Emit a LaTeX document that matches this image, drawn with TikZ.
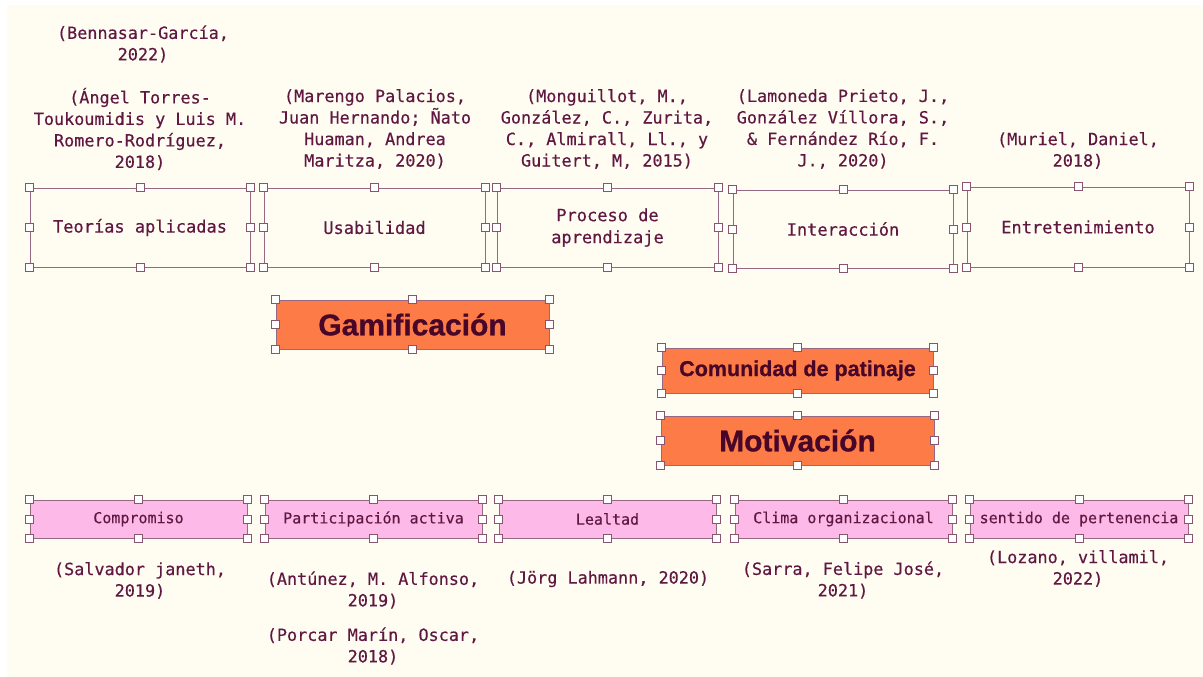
\documentclass[tikz,border=0pt]{standalone}
\usepackage{fontspec}
\setmonofont{DejaVu Sans Mono}[FakeBold=0.35]
\newfontfamily\headfont{Liberation Sans}[BoldFeatures={FakeBold=0.8}]
\definecolor{creamc}{RGB}{255,253,241}
\definecolor{citec}{RGB}{96,24,66}
\definecolor{edgec}{RGB}{150,105,130}
\definecolor{handlec}{RGB}{135,85,112}
\definecolor{orangec}{RGB}{253,123,70}
\definecolor{pinkc}{RGB}{253,185,232}
\definecolor{headc}{RGB}{72,6,40}
\tikzset{
  cite/.style={font=\ttfamily\fontsize{16.8}{21.5}\selectfont, text=citec, align=center, inner sep=0pt},
  topbox/.style={draw=edgec, line width=1pt, inner sep=0pt, minimum height=79pt,
    font=\ttfamily\fontsize{17}{22}\selectfont, text=citec, align=center},
  orbox/.style={draw=edgec, line width=1pt, fill=orangec, inner sep=0pt, text=headc,
    font=\headfont\bfseries},
  pinkbox/.style={draw=edgec, line width=1pt, fill=pinkc, inner sep=0pt, minimum height=38pt,
    minimum width=217pt, font=\ttfamily\fontsize{15}{18}\selectfont, text=citec},
  handle/.style={draw=handlec, fill=white, line width=0.8pt, minimum size=8pt, inner sep=0pt, rectangle}
}
\newcommand\putHandles[1]{%
  \foreach \a/\k in {north west/1,north/2,north east/3,east/4,south east/5,south/6,south west/7,west/8}{%
    \node[handle] (#1-h\k) at (#1.\a) {};}}
\begin{document}
\begin{tikzpicture}[x=1pt,y=-1pt]
\useasboundingbox (0,0) rectangle (1203,677);
\fill[white] (0,0) rectangle (1203,677);
\fill[creamc] (7,5) rectangle (1203,677);

% citations top
\node[cite] (c0) at (143,44) {(Bennasar-García,\\2022)};
\node[cite] (c1) at (140,129) {(Ángel Torres-\\Toukoumidis y Luis M.\\Romero-Rodríguez,\\2018)};
\node[cite] (c2) at (375,129) {(Marengo Palacios,\\Juan Hernando; Ñato\\Huaman, Andrea\\Maritza, 2020)};
\node[cite] (c3) at (607,129) {(Monguillot, M.,\\González, C., Zurita,\\C., Almirall, Ll., y\\Guitert, M, 2015)};
\node[cite] (c4) at (843,129) {(Lamoneda Prieto, J.,\\González Víllora, S.,\\\& Fernández Río, F.\\J., 2020)};
\node[cite] (c5) at (1078,150.5) {(Muriel, Daniel,\\2018)};

% top boxes
\node[topbox, minimum width=220pt] (t1) at (140,227.5) {Teorías aplicadas};
\node[topbox, minimum width=221pt] (t2) at (374.5,227.5) {Usabilidad};
\node[topbox, minimum width=221pt] (t3) at (607.5,227.5) {Proceso de\\aprendizaje};
\node[topbox, minimum width=220pt, minimum height=78pt] (t4) at (843,229) {Interacción};
\node[topbox, minimum width=222pt, minimum height=80pt] (t5) at (1078,227) {Entretenimiento};
\putHandles{t1}\putHandles{t2}\putHandles{t3}\putHandles{t4}\putHandles{t5}

% orange boxes
\node[orbox, minimum width=273pt, minimum height=49pt, font=\headfont\bfseries\fontsize{30}{34}\selectfont] (g) at (412.5,324.5) {Gamificación};
\node[orbox, minimum width=271pt, minimum height=45pt, font=\headfont\bfseries\fontsize{21.5}{24}\selectfont] (cp) at (797.5,370.5) {Comunidad de patinaje};
\node[orbox, minimum width=273pt, minimum height=49pt, font=\headfont\bfseries\fontsize{30}{34}\selectfont] (m) at (797.5,440.5) {Motivación};
\putHandles{g}\putHandles{cp}\putHandles{m}

% pink boxes
\node[pinkbox] (p1) at (138.5,519) {Compromiso};
\node[pinkbox] (p2) at (373.5,519) {Participación activa};
\node[pinkbox] (p3) at (607.5,519) {Lealtad};
\node[pinkbox] (p4) at (843.5,519) {Clima organizacional};
\node[pinkbox, minimum width=218pt] (p5) at (1079,519) {sentido de pertenencia};
\putHandles{p1}\putHandles{p2}\putHandles{p3}\putHandles{p4}\putHandles{p5}

% citations bottom
\node[cite] (b1) at (140,580.5) {(Salvador janeth,\\2019)};
\node[cite] (b2) at (373,590) {(Antúnez, M. Alfonso,\\2019)};
\node[cite] (b2b) at (373,646) {(Porcar Marín, Oscar,\\2018)};
\node[cite] (b3) at (608,579) {(Jörg Lahmann, 2020)};
\node[cite] (b4) at (843,580) {(Sarra, Felipe José,\\2021)};
\node[cite] (b5) at (1078,568.5) {(Lozano, villamil,\\2022)};
\end{tikzpicture}
\end{document}
